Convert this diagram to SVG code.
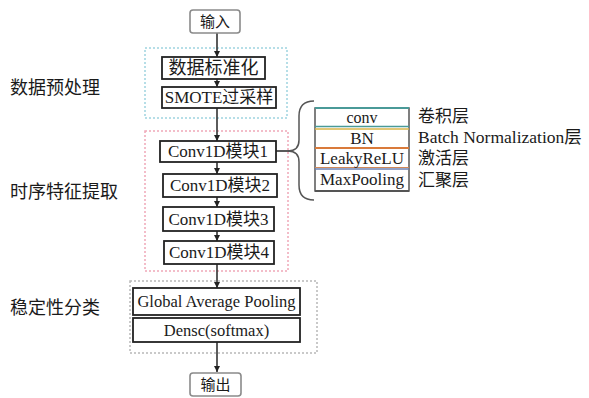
<svg xmlns="http://www.w3.org/2000/svg" width="589" height="398" viewBox="0 0 589 398">
<style>
text{font-family:"Liberation Serif","Noto Sans CJK SC",serif;fill:#1a1a1a;}
.lbl{font-family:"Noto Sans CJK SC","Liberation Serif",sans-serif;font-size:17px;}
.box{fill:#fff;stroke:#222;stroke-width:1.8;}
.io{fill:#fff;stroke:#8a8a8a;stroke-width:1.6;}
.t{font-size:17px;text-anchor:middle;dominant-baseline:central;}
.c{fill:none;stroke:#333;stroke-width:1.6;}
.grp{fill:none;stroke-width:1.5;stroke-dasharray:2 2;}
.row{fill:#fff;}
</style>
<defs>
<marker id="ah" viewBox="0 0 8 8" refX="8" refY="4" markerWidth="6" markerHeight="6" markerUnits="userSpaceOnUse" orient="auto">
<path d="M0,0 L8,4 L0,8 Z" fill="#222"/>
</marker>
</defs>
<rect width="589" height="398" fill="#fff"/>

<g id="groups">
<rect x="145" y="48" width="142" height="70" class="grp" stroke="#9fd3df"/>
<rect x="145" y="131" width="143" height="140" class="grp" stroke="#f0a8b8"/>
<rect x="130" y="281" width="187" height="72" class="grp" stroke="#b8b8b8"/>
</g>

<g id="labels">
<text x="10" y="94" class="lbl" style="font-size:18px">数据预处理</text>
<text x="10" y="198" class="lbl" style="font-size:18px">时序特征提取</text>
<text x="10" y="314" class="lbl" style="font-size:18px">稳定性分类</text>
</g>

<g id="connectors">
<line x1="217" y1="33" x2="217" y2="57" class="c" marker-end="url(#ah)"/>
<line x1="217" y1="79" x2="217" y2="87" class="c" marker-end="url(#ah)"/>
<line x1="217" y1="108" x2="217" y2="141" class="c" marker-end="url(#ah)"/>
<line x1="217" y1="162" x2="217" y2="174" class="c" marker-end="url(#ah)"/>
<line x1="217" y1="197" x2="217" y2="207" class="c" marker-end="url(#ah)"/>
<line x1="217" y1="231" x2="217" y2="241" class="c" marker-end="url(#ah)"/>
<line x1="217" y1="264" x2="217" y2="288" class="c" marker-end="url(#ah)"/>
<line x1="217" y1="342" x2="217" y2="372" class="c" marker-end="url(#ah)"/>
<line x1="276" y1="151" x2="289" y2="151" class="c"/>
<path d="M314,101 Q299,101 299,116 L299,140 Q299,151 288,151 Q299,151 299,162 L299,185 Q299,200 314,200" fill="none" stroke="#555" stroke-width="1.5"/>
</g>

<g id="input"><rect x="190" y="10" width="50" height="23" rx="3" class="io"/><text x="215" y="21.5" class="t" style="font-size:15px">输入</text></g>
<g id="n1"><rect x="162" y="57" width="103" height="22" class="box"/><text x="213.5" y="68" class="t" style="font-size:18px">数据标准化</text></g>
<g id="n2"><rect x="162" y="87" width="114" height="21" class="box"/><text x="219" y="97.5" class="t">SMOTE过采样</text></g>
<g id="c1"><rect x="160" y="141" width="116" height="21" class="box"/><text x="218" y="151.5" class="t">Conv1D模块1</text></g>
<g id="c2"><rect x="163" y="174" width="114" height="23" class="box"/><text x="220" y="185.5" class="t">Conv1D模块2</text></g>
<g id="c3"><rect x="163" y="207" width="111" height="24" class="box"/><text x="218.5" y="219" class="t">Conv1D模块3</text></g>
<g id="c4"><rect x="164" y="241" width="110" height="23" class="box"/><text x="219" y="252.5" class="t">Conv1D模块4</text></g>
<g id="gap"><rect x="133" y="288" width="167" height="27" class="box"/><text x="216.5" y="301.5" class="t" style="font-size:16.5px">Global Average Pooling</text></g>
<g id="dense"><rect x="133" y="318" width="167" height="24" class="box"/><text x="216.5" y="330" class="t" style="font-size:16.5px">Densc(softmax)</text></g>
<g id="output"><rect x="190" y="373" width="51" height="23" rx="3" class="io"/><text x="215.5" y="384.5" class="t" style="font-size:15px">输出</text></g>

<g id="layers">
<rect x="315" y="108" width="94" height="83" class="row" stroke="#555" stroke-width="1.5"/>
<line x1="315" y1="108" x2="409" y2="108" stroke="#4a9a98" stroke-width="2"/>
<line x1="315" y1="126.5" x2="409" y2="126.5" stroke="#4a9a98" stroke-width="1.5"/>
<line x1="315" y1="129" x2="409" y2="129" stroke="#d9b548" stroke-width="1.5"/>
<line x1="315" y1="148" x2="409" y2="148" stroke="#d97a3a" stroke-width="2"/>
<line x1="315" y1="167.5" x2="409" y2="167.5" stroke="#d08a5a" stroke-width="1.2"/>
<line x1="315" y1="169" x2="409" y2="169" stroke="#6d82b3" stroke-width="1.5"/>
<line x1="315" y1="191" x2="409" y2="191" stroke="#555" stroke-width="1.8"/>
<text x="362" y="117" class="t" style="font-size:16px">conv</text>
<text x="362" y="138" class="t">BN</text>
<text x="362" y="158" class="t">LeakyReLU</text>
<text x="362" y="179.5" class="t">MaxPooling</text>
</g>

<g id="layer-labels">
<text x="418" y="116" style="font-size:17px" dominant-baseline="central">卷积层</text>
<text x="418" y="137" style="font-size:17.5px" dominant-baseline="central">Batch Normalization层</text>
<text x="418" y="158" style="font-size:17px" dominant-baseline="central">激活层</text>
<text x="418" y="180" style="font-size:17px" dominant-baseline="central">汇聚层</text>
</g>
</svg>
